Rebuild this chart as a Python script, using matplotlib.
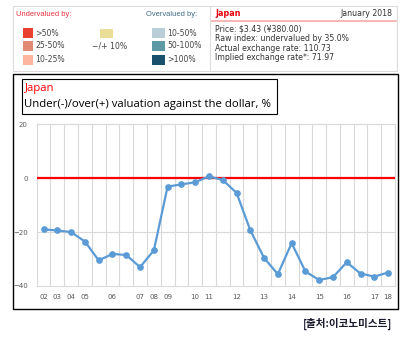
import numpy as np
import matplotlib
matplotlib.use("Agg")
import matplotlib.pyplot as plt
from matplotlib.patches import Rectangle
from matplotlib.lines import Line2D

# Big Mac index, Japan: under(-)/over(+) valuation against the dollar, %
values = [-19.0, -19.4, -20.0, -23.5, -30.5, -28.1, -28.5, -33.0, -26.8, -3.1,
          -2.3, -1.5, 0.7, -0.7, -5.4, -19.3, -29.6, -35.6, -24.1, -34.6,
          -37.8, -36.7, -31.2, -35.4, -36.5, -35.0]
tick_labels = ['02', '03', '04', '05', '', '06', '', '07', '08', '09', '', '10', '11',
               '', '12', '', '13', '', '14', '', '15', '', '16', '', '17', '18']
y_ticks = [-40, -20, 0, 20]

info_lines = ['Price: $3.43 (¥380.00)',
              'Raw index: undervalued by 35.0%',
              'Actual exchange rate: 110.73',
              'Implied exchange rate*: 71.97']

under_labels = ['>50%', '25-50%', '10-25%']
under_colors = ['#E8412F', '#E38A76', '#FDB59F']
over_labels = ['10-50%', '50-100%', '>100%']
over_colors = ['#B9CED7', '#5E99A6', '#1B506C']

W, H = 403, 344
fig = plt.figure(figsize=(W / 100, H / 100), dpi=100)


def fx(x):
    return x / W


def fy(y):
    return 1 - y / H


def box(x0, y0, x1, y1, **kw):
    fig.add_artist(Rectangle((fx(x0), fy(y1)), fx(x1) - fx(x0), fy(y0) - fy(y1),
                             transform=fig.transFigure, **kw))


def text(x, y, s, **kw):
    fig.text(fx(x), fy(y), s, va='center', **kw)


# --- top legend / info panels
box(12.7, 6, 397, 71, fill=False, ec='#DDDDDD', lw=0.8)
fig.add_artist(Line2D([fx(210), fx(210)], [fy(6), fy(71)], color='#DDDDDD', lw=0.8))

small = dict(family='Liberation Sans', fontsize=5.4)
lab_font = dict(family='DejaVu Sans', fontsize=5.6, color='#444444')
text(16.5, 15, 'Undervalued by:', color='#E8323C', **small)
text(146, 15, 'Overvalued by:', color='#3B6A85', **small)
rows_y = [33, 46, 60]
for lab, col, yy in zip(under_labels, under_colors, rows_y):
    box(23, yy - 4.8, 33, yy + 4.8, color=col, lw=0)
    text(35, yy, lab, **lab_font)
box(100, 28.5, 113, 37.5, color='#E9DD98', lw=0)
text(92, 46, '\u2212/+ 10%', **lab_font)
for lab, col, yy in zip(over_labels, over_colors, rows_y):
    box(152, yy - 4.8, 165, yy + 4.8, color=col, lw=0)
    text(167.5, yy, lab, **lab_font)

info = dict(family='DejaVu Sans', fontsize=5.6, color='#333333')
text(215, 14, 'Japan', fontweight='bold', family='DejaVu Sans', fontsize=5.8, color='#E8000B')
text(392, 14, 'January 2018', ha='right', **info)
fig.add_artist(Line2D([fx(212), fx(396)], [fy(20.5), fy(20.5)], color='#F4A3A3', lw=1.1))
for s, yy in zip(info_lines, [29, 38.7, 48.2, 57.5]):
    text(215, yy, s, **info)

# --- chart frame and title box
box(12.7, 74.3, 398, 309.3, fill=False, ec='black', lw=1.0)
box(21.7, 79.3, 276.7, 114, fill=False, ec='black', lw=0.8)
title = dict(family='Open Sans', fontsize=8.2)
text(24.5, 89, 'Japan', color='#FF0000', **title)
text(24.5, 104, 'Under(-)/over(+) valuation against the dollar, %', color='black', **title)

# --- line chart
ax = fig.add_axes([fx(36.7), fy(286), fx(395) - fx(36.7), fy(124.3) - fy(286)])
x = np.arange(len(values)) + 0.5
ax.axhline(0, color='#FF0000', lw=1.6, zorder=3)
ax.plot(x, values, color='#5B9BD5', lw=1.6, marker='o', ms=3.8, zorder=4)
ax.set_xlim(0, len(values))
ax.set_ylim(-40, 20)
ax.set_xticks(x)
ax.set_xticklabels(tick_labels)
ax.set_xticks(np.arange(len(values) + 1), minor=True)
ax.set_yticks(y_ticks)
ax.grid(which='minor', axis='x', color='#D9D9D9', lw=0.8)
ax.grid(which='major', axis='y', color='#D9D9D9', lw=0.8)
ax.tick_params(which='both', length=0, labelsize=5, labelcolor='#595959')
ax.tick_params(axis='y', pad=6.5)
ax.tick_params(axis='x', pad=6)
for sp in ax.spines.values():
    sp.set_visible(False)
for t in ax.xaxis.get_minor_ticks() + ax.yaxis.get_major_ticks():
    t.gridline.set_clip_on(False)

# --- source
fig.text(fx(392), fy(324), '[출처:이코노미스트]', ha='right', va='center',
         family=['Noto Sans CJK KR', 'DejaVu Sans'], fontweight='bold',
         fontsize=7.6, color='#1A1A2E')

fig.savefig('out.png', dpi=100)
